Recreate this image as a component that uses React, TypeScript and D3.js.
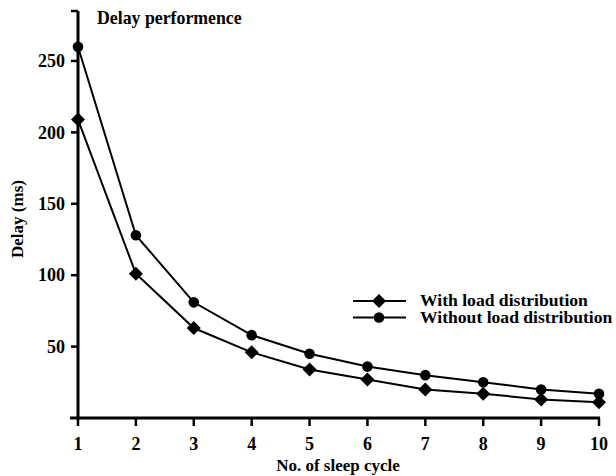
import React from "react";
import * as d3 from "d3";

const cycles = [1, 2, 3, 4, 5, 6, 7, 8, 9, 10];
const withLoad = [209, 101, 63, 46, 34, 27, 20, 17, 13, 11];
const withoutLoad = [260, 128, 81, 58, 45, 36, 30, 25, 20, 17];
const yTicks = [50, 100, 150, 200, 250];
const seriesNames = ["With load distribution", "Without load distribution"];

const W = 616;
const H = 476;
const M = { left: 78, right: 17, top: 11, bottom: 57 };
const FONT = "Liberation Serif, Times New Roman, serif";

export default function App() {
  const x = d3.scaleLinear().domain([1, 10]).range([M.left, W - M.right]);
  const y = d3.scaleLinear().domain([0, 285]).range([H - M.bottom - 1, M.top]);
  const y0 = y(0);
  const line = d3
    .line<number>()
    .x((_, i) => x(cycles[i]))
    .y((d) => y(d));
  const diamondPath = "M0,-7L7,0L0,7L-7,0Z";
  const circlePath = d3.symbol().type(d3.symbolCircle).size(Math.PI * 5.3 * 5.3)()!;
  const series = [
    { vals: withLoad, sym: diamondPath },
    { vals: withoutLoad, sym: circlePath },
  ];
  const tp = { fontFamily: FONT, fontSize: 17, fontWeight: "bold" as const, fill: "#000" };
  return (
    <svg width={W} height={H} style={{ position: "absolute", left: 0, top: 0, background: "#fff" }}>
      {/* axes */}
      <line x1={M.left} x2={M.left} y1={y(285)} y2={y0 + 1.5} stroke="#000" strokeWidth={3} />
      <line x1={M.left - 7} x2={M.left} y1={y(285)} y2={y(285)} stroke="#000" strokeWidth={2.5} />
      <line x1={M.left - 8} x2={x(10) + 1} y1={y0} y2={y0} stroke="#000" strokeWidth={3} />
      {yTicks.map((t) => (
        <g key={t}>
          <line x1={M.left - 7} x2={M.left} y1={y(t)} y2={y(t)} stroke="#000" strokeWidth={2.5} />
          <text x={M.left - 13} y={y(t)} dy="0.35em" textAnchor="end" {...tp} fontSize={18}>
            {t}
          </text>
        </g>
      ))}
      {cycles.map((c) => (
        <g key={c}>
          <line x1={x(c)} x2={x(c)} y1={y0} y2={y0 + 8} stroke="#000" strokeWidth={2.5} />
          <text x={x(c)} y={y0 + 32} textAnchor="middle" {...tp} fontSize={18}>
            {c}
          </text>
        </g>
      ))}
      {/* series */}
      {series.map((s, si) => (
        <g key={si}>
          <path d={line(s.vals)!} fill="none" stroke="#000" strokeWidth={2} />
          {s.vals.map((v, i) => (
            <path key={i} d={s.sym} transform={`translate(${x(cycles[i])},${y(v)})`} fill="#000" />
          ))}
        </g>
      ))}
      {/* legend */}
      {series.map((s, i) => {
        const ly = 301 + i * 16.5;
        return (
          <g key={i}>
            <line x1={353} x2={406} y1={ly} y2={ly} stroke="#000" strokeWidth={2} />
            <path d={s.sym} transform={`translate(379,${ly})`} fill="#000" />
            <text x={420} y={ly + 5} {...tp} fontSize={17.6}>
              {seriesNames[i]}
            </text>
          </g>
        );
      })}
      <text x={97} y={24} {...tp} fontSize={17.8}>
        Delay performence
      </text>
      <text x={338} y={471} textAnchor="middle" {...tp}>
        No. of sleep cycle
      </text>
      <text transform="translate(23,219) rotate(-90)" textAnchor="middle" {...tp}>
        Delay (ms)
      </text>
    </svg>
  );
}
